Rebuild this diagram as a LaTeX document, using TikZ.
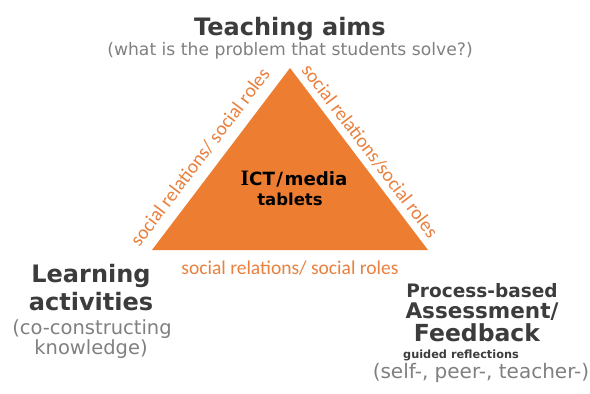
\documentclass[tikz,border=0pt]{standalone}
\usepackage{fontspec}
\setmainfont{DejaVu Sans}
\newfontfamily\calfont{Carlito}
\newfontfamily\serifI{Liberation Serif}
\definecolor{triorange}{RGB}{237,125,49}
\definecolor{relorange}{RGB}{234,128,62}
\definecolor{titlegray}{RGB}{60,60,60}
\definecolor{subgray}{RGB}{128,128,128}
\begin{document}
\begin{tikzpicture}[x=1pt,y=-1pt,
  title/.style={font=\fontsize{24}{24}\selectfont\bfseries, text=titlegray, anchor=base, inner sep=0pt},
  sub/.style={font=\fontsize{19.5}{20}\selectfont, text=subgray, anchor=base, inner sep=0pt},
  rel/.style={font=\calfont\fontsize{19.5}{20}\selectfont, text=relorange, inner sep=0pt},
  mid/.style={font=\fontsize{16.5}{17}\selectfont\bfseries, text=black, anchor=base, inner sep=0pt}]
\useasboundingbox (0,0) rectangle (590,394);
\fill[white] (0,0) rectangle (590,394);
% triangle
\coordinate (apex) at (290,68);
\coordinate (bl) at (152,250);
\coordinate (br) at (428,250);
\fill[triorange] (apex) -- (bl) -- (br) -- cycle;
% centre text
\node[mid] (ict) at (294,185) {{\serifI\fontsize{22}{22}\selectfont I}\fontsize{18.2}{19}\selectfont CT\hspace{1.5pt}/\hspace{1.5pt}media};
\node[mid] (tab) at (290,205) {tablets};
% relation labels
\node[rel, rotate=52.8] (relL) at (200,157) {social relations/ social roles};
\node[rel, rotate=-52.8] (relR) at (370,151) {social relations/social roles};
\node[rel] (relB) at (290,268) {social relations/ social roles};
% top
\node[title] (ta) at (290,35) {Teaching aims};
\node[sub, font=\fontsize{17.2}{18}\selectfont] (tas) at (290,55) {(what is the problem that students solve?)};
% left
\node[title] (la1) at (91,282) {Learning};
\node[title] (la2) at (91,310) {activities};
\node[sub] (la3) at (92,334) {(co-constructing};
\node[sub] (la4) at (91,354) {knowledge)};
% right
\node[title, font=\fontsize{18.5}{19}\selectfont\bfseries] (pa1) at (482,297) {Process-based};
\node[title, font=\fontsize{21.5}{22}\selectfont\bfseries] (pa2) at (482,318) {Assessment/};
\node[title, font=\fontsize{23.5}{24}\selectfont\bfseries] (pa3) at (477,341) {Feedback};
\node[title, font=\fontsize{11.3}{12}\selectfont\bfseries] (pa4) at (461,358) {guided reflections};
\node[sub, font=\fontsize{20}{20}\selectfont] (pa5) at (481,378) {(self-, peer-, teacher-)};
\end{tikzpicture}
\end{document}
